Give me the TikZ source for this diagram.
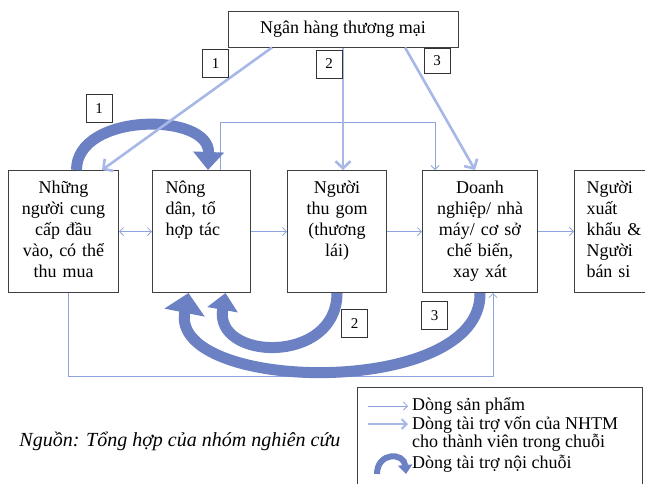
\documentclass[tikz,border=0pt]{standalone}
\usepackage{fontspec}
\setmainfont{Liberation Serif}
\usetikzlibrary{arrows.meta}

\definecolor{productblue}{RGB}{143,163,222}
\definecolor{loanblue}{RGB}{168,184,230}
\definecolor{chainblue}{RGB}{108,128,196}

\tikzset{
  stage/.style={draw=black!75, line width=1pt, anchor=north west, inner ysep=0pt,
    text height=23pt, text depth=99pt, font=\fontsize{18}{21}\selectfont},
  tag/.style={draw=black!80, line width=0.8pt, minimum width=26pt, minimum height=28pt,
    inner sep=0pt, font=\fontsize{15}{17}\selectfont},
  product/.style={draw=productblue, line width=0.8pt},
  loan/.style={draw=loanblue, line width=2.6pt, -{Straight Barb[length=7pt,width=15pt]}},
  chainflow/.style 2 args={draw=chainblue, line width=11pt, -{Triangle[width=#1,length=#2]}},
  legtext/.style={anchor=west, inner sep=0pt, align=left, font=\fontsize{18}{18}\selectfont}
}

\begin{document}
\begin{tikzpicture}[x=1pt, y=-1pt, >={Straight Barb[length=4pt,width=8pt]}]
  \useasboundingbox (0,0) rectangle (645,483);
  \clip (0,0) rectangle (645,483);

  % ngan hang
  \node[draw=black!75, line width=1pt, minimum width=230pt, minimum height=36pt,
    font=\fontsize{18}{21}\selectfont] (bank) at (343,29) {Ngân hàng thương mại};

  % cac thanh vien trong chuoi
  \node[stage, text width=106pt, inner xsep=2pt, align=center] (supply) at (8,170)
    {Những\\người cung\\cấp đầu\\vào, có thể\\thu mua};
  \node[stage, text width=72pt, inner xsep=13pt, align=left] (farm) at (152,170)
    {Nông\\dân, tổ\\hợp tác};
  \node[stage, text width=95pt, inner xsep=2pt, align=center] (collect) at (287,170)
    {Người\\thu gom\\(thương\\lái)};
  \node[stage, text width=111pt, inner xsep=2pt, align=center] (firm) at (422,170)
    {Doanh\\nghiệp/ nhà\\máy/ cơ sở\\chế biến,\\xay xát};
  \node[stage, text width=76pt, inner xsep=12pt, align=left] (export) at (574,170)
    {Người\\xuất\\khẩu \&\\Người\\bán si};

  % dong san pham
  \draw[product, <->] (supply.east) -- (farm.west);
  \draw[product, ->] (farm.east) -- (collect.west);
  \draw[product, ->] (collect.east) -- (firm.west);
  \draw[product, ->] (firm.east) -- (export.west);
  \draw[product, ->] ([xshift=19pt]farm.north) -- ++(0,-48) -| ([xshift=13pt]firm.north west);
  \draw[product, ->] ([xshift=5pt]supply.south) -- ++(0,83) -| ([xshift=13pt]firm.south);

  % dong tai tro noi chuoi
  \draw[chainflow={30pt}{18pt}] ([xshift=13pt]supply.north)
    .. controls +(0,-58) and +(2,-58) .. ([xshift=56pt]farm.north west);
  \draw[chainflow={30pt}{17pt}] (collect.south)
    .. controls +(0,72) and +(-12,68) .. ([xshift=24pt]farm.south);
  \draw[chainflow={40pt}{20pt}] (firm.south)
    .. controls +(2,106) and +(-20,100) .. ([xshift=-13pt]farm.south);

  % dong tai tro von cua NHTM
  \draw[loan] ([xshift=-71pt]bank.south) -- ([xshift=-17pt]supply.north east);
  \draw[loan] (bank.south) -- (bank.south |- collect.north);
  \draw[loan] ([xshift=62pt]bank.south) -- ([xshift=-5pt]firm.north);

  % nhan so
  \node[tag] (tagA) at (215.5,63.5) {1};
  \node[tag] (tagB) at (329,64) {2};
  \node[tag, minimum height=25pt] (tagC) at (437,60.5) {3};
  \node[tag] (tagD) at (99,108.5) {1};
  \node[tag] (tagE) at (354.5,323.5) {2};
  \node[tag] (tagF) at (434.5,315.5) {3};

  % nguon
  \node[font=\fontsize{20}{22}\selectfont\itshape] (source) at (180,441)
    {Nguồn: Tổng hợp của nhóm nghiên cứu};

  % chu giai
  \node[draw=black!75, line width=1pt, anchor=north west, minimum width=285pt,
    minimum height=105pt] (legend) at (357,387) {};
  \coordinate (keyA) at (368,406);
  \coordinate (keyB) at (368,424);
  \coordinate (keyC) at (377,474);
  \draw[product, ->] (keyA) -- ++(40,0);
  \draw[loan, line width=2pt, -{Straight Barb[length=5pt,width=10pt]}] (keyB) -- ++(40,0);
  \draw[chainflow={14pt}{9pt}, line width=6pt] (keyC) .. controls +(0,-22) and +(-2,-22) .. ++(29,0);
  \node[legtext] (legA) at (412,406) {Dòng sản phẩm};
  \node[legtext] (legB) at (412,434) {Dòng tài trợ vốn của NHTM\\cho thành viên trong chuỗi};
  \node[legtext] (legC) at (412,464) {Dòng tài trợ nội chuỗi};
\end{tikzpicture}
\end{document}
